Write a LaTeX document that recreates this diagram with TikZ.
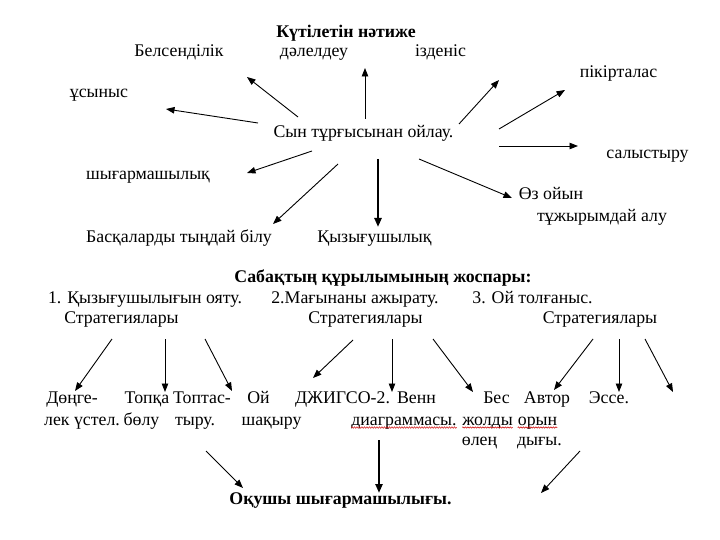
\documentclass[tikz,border=0pt]{standalone}
\usepackage{fontspec}
\setmainfont{Liberation Serif}
\newfontfamily\tnr{Liberation Serif}
\usetikzlibrary{arrows.meta,decorations.pathmorphing}
\begin{document}
\begin{tikzpicture}[x=1pt,y=-1pt,
  txt/.style={anchor=base,inner sep=0pt,font=\tnr\fontsize{17.8}{21}\selectfont},
  btxt/.style={txt,font=\tnr\fontsize{17.8}{21}\selectfont\bfseries},
  arr/.style={line width=0.9pt,-{Triangle[length=8.5pt,width=6.5pt]}},
  tarr/.style={line width=2.2pt,-{Triangle[length=9pt,width=7pt]}},
  wavy/.style={red!80!black,line width=0.5pt,decorate,decoration={snake,amplitude=0.7pt,segment length=2.5pt}}]
\useasboundingbox (0,0) rectangle (720,540);
\fill[white] (0,0) rectangle (720,540);
% top section
\node[btxt] (kut) at (346,38) {Күтілетін нәтиже};
\node[txt] (bels) at (179,57) {Белсенділік};
\node[txt] (dal) at (314,57) {дәлелдеу};
\node[txt] (izd) at (440.5,57) {ізденіс};
\node[txt] (pik) at (618.5,78) {пікірталас};
\node[txt] (usy) at (99,98) {ұсыныс};
\node[txt] (syn) at (363.5,138) {Сын тұрғысынан ойлау.};
\node[txt] (sal) at (647.5,159) {салыстыру};
\node[txt] (shyg) at (148,180) {шығармашылық};
\node[txt] (oz) at (551,200) {Өз ойын};
\node[txt] (tuz) at (602,222) {тұжырымдай алу};
\node[txt] (bas) at (179,242) {Басқаларды тыңдай білу};
\node[txt] (qyz) at (374.5,242) {Қызығушылық};
% arrows top
\coordinate (a1t) at (298,117); \coordinate (a1h) at (247,77);
\coordinate (a2t) at (365,119); \coordinate (a2h) at (365,68);
\coordinate (a3t) at (258,123); \coordinate (a3h) at (166,109);
\coordinate (a4t) at (459,124); \coordinate (a4h) at (499,80);
\coordinate (a5t) at (499,129); \coordinate (a5h) at (565,90);
\coordinate (a6t) at (499,146); \coordinate (a6h) at (578,146);
\coordinate (a7t) at (312,151); \coordinate (a7h) at (247,173);
\coordinate (a8t) at (338,164); \coordinate (a8h) at (273,224);
\coordinate (a9t) at (378,159); \coordinate (a9h) at (378,227);
\coordinate (a10t) at (419,159); \coordinate (a10h) at (512,198);
\draw[arr] (a1t) -- (a1h);
\draw[arr] (a2t) -- (a2h);
\draw[arr] (a3t) -- (a3h);
\draw[arr] (a4t) -- (a4h);
\draw[arr] (a5t) -- (a5h);
\draw[arr] (a6t) -- (a6h);
\draw[arr] (a7t) -- (a7h);
\draw[arr] (a8t) -- (a8h);
\draw[tarr] (a9t) -- (a9h);
\draw[arr] (a10t) -- (a10h);
% bottom section
\node[btxt] (sab) at (383,282) {Сабақтың құрылымының жоспары:};
\node[txt] (s1) at (145,303) {1. Қызығушылығын ояту.};
\node[txt] (s2) at (355,303) {2.Мағынаны ажырату.};
\node[txt] (s3) at (532.5,303) {3. Ой толғаныс.};
\node[txt] (st1) at (121.5,323) {Стратегиялары};
\node[txt] (st2) at (365.5,323) {Стратегиялары};
\node[txt] (st3) at (600,323) {Стратегиялары};
\node[txt] (i1a) at (72,403) {Дөңге-};
\node[txt] (i2a) at (147,403) {Топқа};
\node[txt] (i3a) at (202,403) {Топтас-};
\node[txt] (i4a) at (258.5,403) {Ой};
\node[txt] (i5a) at (342.5,403) {ДЖИГСО-2.};
\node[txt] (i6a) at (416.5,403) {Венн};
\node[txt] (i7a) at (496.5,403) {Бес};
\node[txt] (i8a) at (547,403) {Автор};
\node[txt] (i9a) at (609,403) {Эссе.};
\node[txt] (i1b) at (82,425) {лек үстел.};
\node[txt] (i2b) at (141.5,425) {бөлу};
\node[txt] (i3b) at (195,425) {тыру.};
\node[txt] (i4b) at (271.5,425) {шақыру};
\node[txt] (i6b) at (404,425) {диаграммасы.};
\node[txt] (i7b) at (487.5,425) {жолды};
\node[txt] (i8b) at (537.5,425) {орын};
\node[txt] (i7c) at (479.5,445) {өлең};
\node[txt] (i8c) at (539.5,445) {дығы.};
\node[btxt] (oqu) at (340.5,504) {Оқушы шығармашылығы.};
% spell-check underlines
\draw[wavy] ([yshift=-2.5pt]i6b.base west) -- ([yshift=-2.5pt]i6b.base east);
\draw[wavy] ([yshift=-2.5pt]i7b.base west) -- ([yshift=-2.5pt]i7b.base east);
\draw[wavy] ([yshift=-2.5pt]i8b.base west) -- ([yshift=-2.5pt]i8b.base east);
% arrows bottom
\coordinate (b1t) at (112,339); \coordinate (b1h) at (75,391);
\coordinate (b2t) at (165,339); \coordinate (b2h) at (165,392);
\coordinate (b3t) at (205,339); \coordinate (b3h) at (232,391);
\coordinate (b4t) at (353,340); \coordinate (b4h) at (313,378);
\coordinate (b5t) at (392,339); \coordinate (b5h) at (392,392);
\coordinate (b6t) at (433,339); \coordinate (b6h) at (473,392);
\coordinate (b7t) at (593,339); \coordinate (b7h) at (554,390);
\coordinate (b8t) at (619,339); \coordinate (b8h) at (619,392);
\coordinate (b9t) at (645,339); \coordinate (b9h) at (673,392);
\coordinate (c1t) at (206,451); \coordinate (c1h) at (243,488);
\coordinate (c2t) at (379,440); \coordinate (c2h) at (379,493);
\coordinate (c3t) at (580,451); \coordinate (c3h) at (541,493);
\draw[arr] (b1t) -- (b1h);
\draw[arr] (b2t) -- (b2h);
\draw[arr] (b3t) -- (b3h);
\draw[arr] (b4t) -- (b4h);
\draw[arr] (b5t) -- (b5h);
\draw[arr] (b6t) -- (b6h);
\draw[arr] (b7t) -- (b7h);
\draw[arr] (b8t) -- (b8h);
\draw[arr] (b9t) -- (b9h);
\draw[arr] (c1t) -- (c1h);
\draw[tarr] (c2t) -- (c2h);
\draw[arr] (c3t) -- (c3h);
\end{tikzpicture}
\end{document}
